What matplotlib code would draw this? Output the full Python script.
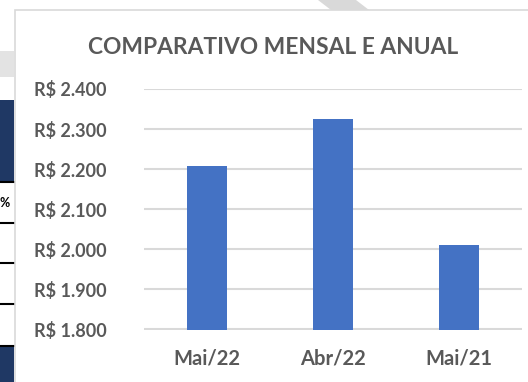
import matplotlib.pyplot as plt
from matplotlib.patches import Rectangle, Polygon
from matplotlib.lines import Line2D
from matplotlib.ticker import FuncFormatter

# dados do gráfico
meses = ["Mai/22", "Abr/22", "Mai/21"]
valores = [2208, 2326, 2010]
ticks_y = [1800, 1900, 2000, 2100, 2200, 2300, 2400]

W, H = 528, 382
fig = plt.figure(figsize=(W / 100, H / 100), dpi=100)
fig.patch.set_facecolor("white")


def fx(px):
    return px / W


def fy(py):
    return 1 - py / H


# restos da planilha em volta do gráfico
fig.add_artist(Rectangle((fx(0), fy(77)), fx(14), 26 / H, color="#e3e3e3", lw=0, zorder=-2))
fig.add_artist(Rectangle((fx(0), fy(182)), fx(14), 82 / H, color="#1f3864", lw=0, zorder=-2))
fig.add_artist(Rectangle((fx(0), fy(382)), fx(14), 36 / H, color="#1f3864", lw=0, zorder=-2))
for yl in [182, 223, 263, 304, 346]:
    fig.add_artist(Line2D([fx(0), fx(14)], [fy(yl), fy(yl)], color="black", lw=1.5, zorder=-2))
fig.text(fx(0), fy(203), "%", ha="left", va="center", fontsize=9,
         fontweight="bold", color="black", family="Lato")
fig.add_artist(Polygon([(fx(318), fy(0)), (fx(356), fy(0)), (fx(369), fy(10)), (fx(331), fy(10))],
                       closed=True, color="#d9d9d9", lw=0, zorder=-2))

# moldura do gráfico
fig.add_artist(Rectangle((fx(15), fy(400)), fx(540), 390 / H, facecolor="white",
                         edgecolor="#d9d9d9", lw=1.2, zorder=-1))

ax = fig.add_axes([fx(144), fy(329.5), fx(522 - 144), (329.5 - 89) / H])
ax.set_zorder(5)
ax.set_facecolor("none")
ax.bar(range(len(meses)), valores, width=0.31, color="#4472c4", zorder=3)
ax.set_xlim(-0.5, 2.5)
ax.set_ylim(1800, 2400)
ax.set_yticks(ticks_y)
ax.yaxis.set_major_formatter(FuncFormatter(lambda v, p: "R$ " + f"{v:,.0f}".replace(",", ".")))
ax.set_xticks(range(len(meses)))
ax.set_xticklabels(meses)
ax.grid(axis="y", color="#d9d9d9", lw=1.5, zorder=0)
for s in ax.spines.values():
    s.set_visible(False)
ax.tick_params(length=0, colors="#595959")
ax.tick_params(axis="y", pad=27, labelsize=13)
ax.tick_params(axis="x", pad=14, labelsize=14.5)
for lbl in ax.get_xticklabels() + ax.get_yticklabels():
    lbl.set_fontweight("bold")
    lbl.set_family("Lato")

fig.text(fx(273), fy(47), "COMPARATIVO MENSAL E ANUAL", ha="center", va="center",
         fontsize=16.4, fontweight="bold", color="#595959", family="Lato")

fig.savefig("out.png", dpi=100)
